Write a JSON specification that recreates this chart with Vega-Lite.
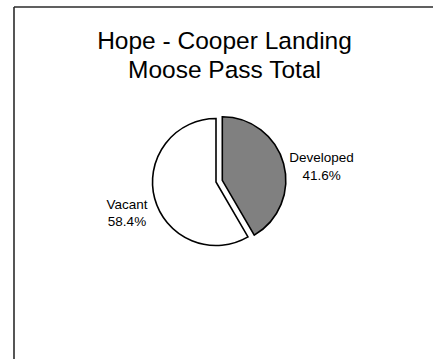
{
  "$schema": "https://vega.github.io/schema/vega-lite/v6.json",
  "width": 419,
  "height": 352,
  "autosize": "none",
  "padding": {"left": 14, "top": 7, "right": 2, "bottom": 2},
  "background": "white",
  "config": {"view": {"stroke": null}},
  "title": {
    "text": ["Hope - Cooper Landing", "Moose Pass Total"],
    "font": "Liberation Sans",
    "fontSize": 24.5,
    "fontWeight": "normal",
    "color": "black",
    "lineHeight": 29,
    "anchor": "middle",
    "frame": "group",
    "orient": "top",
    "offset": -77,
    "dx": 1
  },
  "data": {
    "values": [
      {"category": "Developed", "value": 41.6},
      {"category": "Vacant", "value": 58.4}
    ]
  },
  "transform": [
    {"stack": "value", "groupby": [], "sort": [{"field": "category", "order": "ascending"}], "as": ["v0", "v1"]},
    {"calculate": "(datum.v0 + datum.v1) / 2", "as": "mid"},
    {"calculate": "datum.category + '\\n' + format(datum.value, '.1f') + '%'", "as": "label"}
  ],
  "layer": [
    {
      "data": {"values": [{"edge": "top"}]},
      "mark": {"type": "rule", "stroke": "#2b2b2b", "strokeWidth": 1.6},
      "encoding": {"x": {"value": 0}, "x2": {"value": "width"}, "y": {"value": 0}}
    },
    {
      "data": {"values": [{"edge": "left"}]},
      "mark": {"type": "rule", "stroke": "#2b2b2b", "strokeWidth": 1.6},
      "encoding": {"x": {"value": 0}, "y": {"value": 0}, "y2": {"value": "height"}}
    },
    {
      "transform": [{"filter": "datum.category === 'Vacant'"}],
      "mark": {"type": "arc", "radius": 63.5, "fill": "white", "stroke": "black", "strokeWidth": 1.6, "xOffset": -7.5, "yOffset": -1},
      "encoding": {
        "theta": {"field": "v0", "type": "quantitative", "scale": {"domain": [0, 100]}},
        "theta2": {"field": "v1"}
      }
    },
    {
      "transform": [{"filter": "datum.category === 'Developed'"}],
      "mark": {"type": "arc", "radius": 63.5, "fill": "#808080", "stroke": "black", "strokeWidth": 1.6, "xOffset": -1.2, "yOffset": -2.7},
      "encoding": {
        "theta": {"field": "v0", "type": "quantitative", "scale": {"domain": [0, 100]}},
        "theta2": {"field": "v1"}
      }
    },
    {
      "transform": [{"filter": "datum.category === 'Vacant'"}],
      "mark": {"type": "text", "radius": 92.2, "font": "Liberation Sans", "fontSize": 13.5, "lineHeight": 17.7, "lineBreak": "\n", "color": "black", "align": "center", "baseline": "middle", "xOffset": -7.5, "yOffset": -2.3},
      "encoding": {
        "theta": {"field": "mid", "type": "quantitative", "scale": {"domain": [0, 100]}},
        "text": {"field": "label"}
      }
    },
    {
      "transform": [{"filter": "datum.category === 'Developed'"}],
      "mark": {"type": "text", "radius": 102.8, "font": "Liberation Sans", "fontSize": 13.5, "lineHeight": 17.7, "lineBreak": "\n", "color": "black", "align": "center", "baseline": "middle", "xOffset": -1.2, "yOffset": 1.9},
      "encoding": {
        "theta": {"field": "mid", "type": "quantitative", "scale": {"domain": [0, 100]}},
        "text": {"field": "label"}
      }
    }
  ]
}
